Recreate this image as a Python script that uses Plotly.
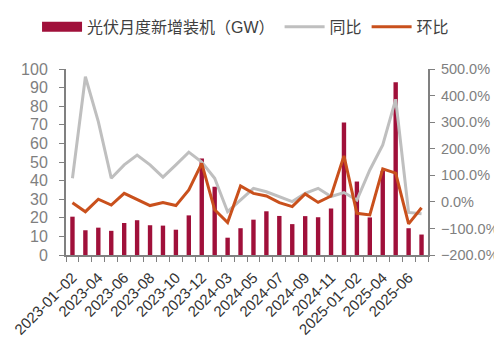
import plotly.graph_objects as go

categories = [
    "2023-01~02", "2023-03", "2023-04", "2023-05", "2023-06", "2023-07", "2023-08",
    "2023-09", "2023-10", "2023-11", "2023-12",
    "2024-01~02", "2024-03", "2024-04", "2024-05", "2024-06", "2024-07", "2024-08",
    "2024-09", "2024-10", "2024-11", "2024-12",
    "2025-01~02", "2025-03", "2025-04", "2025-05", "2025-06", "2025-07",
]
installs_gw = [20.6, 13.3, 14.7, 13.0, 17.2, 18.7, 16.0, 15.8, 13.6, 21.3, 51.9,
               36.7, 9.3, 14.4, 19.0, 23.5, 21.0, 16.6, 20.9, 20.3, 25.0, 71.3,
               39.5, 20.2, 45.2, 92.9, 14.4, 11.0]
yoy_pct = [89, 471, 302, 89, 139, 176, 139, 93, 139, 187, 150,
           89, -37, 7, 51, 38, 20, 1, 32, 51, 20, 35,
           7, 120, 214, 386, -40, -45]
mom_pct = [-3, -37, 10, -12, 32, 10, -14, -3, -14, 45, 145,
           -30, -78, 60, 32, 22, -3, -18, 30, -2, 22, 173,
           -43, -49, 124, 108, -83, -22]
tick_labels = [c if i % 2 == 0 else "" for i, c in enumerate(categories)]

bar_name = "光伏月度新增装机（GW）"
bar_color = "#a0103a"
font_family = "Liberation Sans, Arial, Noto Sans CJK SC, sans-serif"

fig = go.Figure()
fig.add_trace(go.Bar(x=categories, y=installs_gw, name=bar_name, showlegend=False,
                     marker=dict(color=bar_color, line=dict(width=0))))
# legend key drawn as a wide block like the original
fig.add_trace(go.Scatter(x=[None], y=[None], name=bar_name, mode="lines",
                         line=dict(color=bar_color, width=10)))
fig.add_trace(go.Scatter(x=categories, y=yoy_pct, name="同比", mode="lines",
                         line=dict(color="#bfbfbf", width=3), yaxis="y2"))
fig.add_trace(go.Scatter(x=categories, y=mom_pct, name="环比", mode="lines",
                         line=dict(color="#c9501c", width=3), yaxis="y2"))

fig.update_layout(
    width=502, height=362,
    margin=dict(l=58, r=82, t=61, b=115, autoexpand=False),
    paper_bgcolor="white", plot_bgcolor="white",
    font=dict(family=font_family, color="#595959", size=15),
    bargap=0.66,
    showlegend=True,
    legend=dict(orientation="h", x=-0.08, xanchor="left", y=1.226, yanchor="middle",
                font=dict(size=16, color="#404040"), itemwidth=40,
                bgcolor="rgba(0,0,0,0)", tracegroupgap=0),
    xaxis=dict(type="category", tickvals=categories, ticktext=tick_labels,
               tickangle=-45, tickson="boundaries", ticks="outside", ticklen=5,
               tickcolor="#808080", showline=True, linecolor="#808080", linewidth=2,
               showgrid=False, tickfont=dict(size=15, color="#333333"),
               ticklabelstandoff=6,
               range=[-0.5, len(categories) - 0.5]),
    yaxis=dict(range=[0, 100], dtick=10, showgrid=False, zeroline=False,
               showline=True, linecolor="#808080", linewidth=2,
               ticks="outside", ticklen=5, tickcolor="#808080",
               ticklabelstandoff=8,
               tickfont=dict(size=16, color="#7f7f7f")),
    yaxis2=dict(range=[-200, 500], dtick=100, overlaying="y", side="right",
                showgrid=False, zeroline=False, showline=True, linecolor="#808080",
                linewidth=2, ticks="outside", ticklen=5, tickcolor="#808080",
                tickformat=".1f", ticksuffix="%", ticklabelstandoff=3,
                tickfont=dict(size=14.5, color="#7f7f7f")),
)

fig.write_html("out.html")
